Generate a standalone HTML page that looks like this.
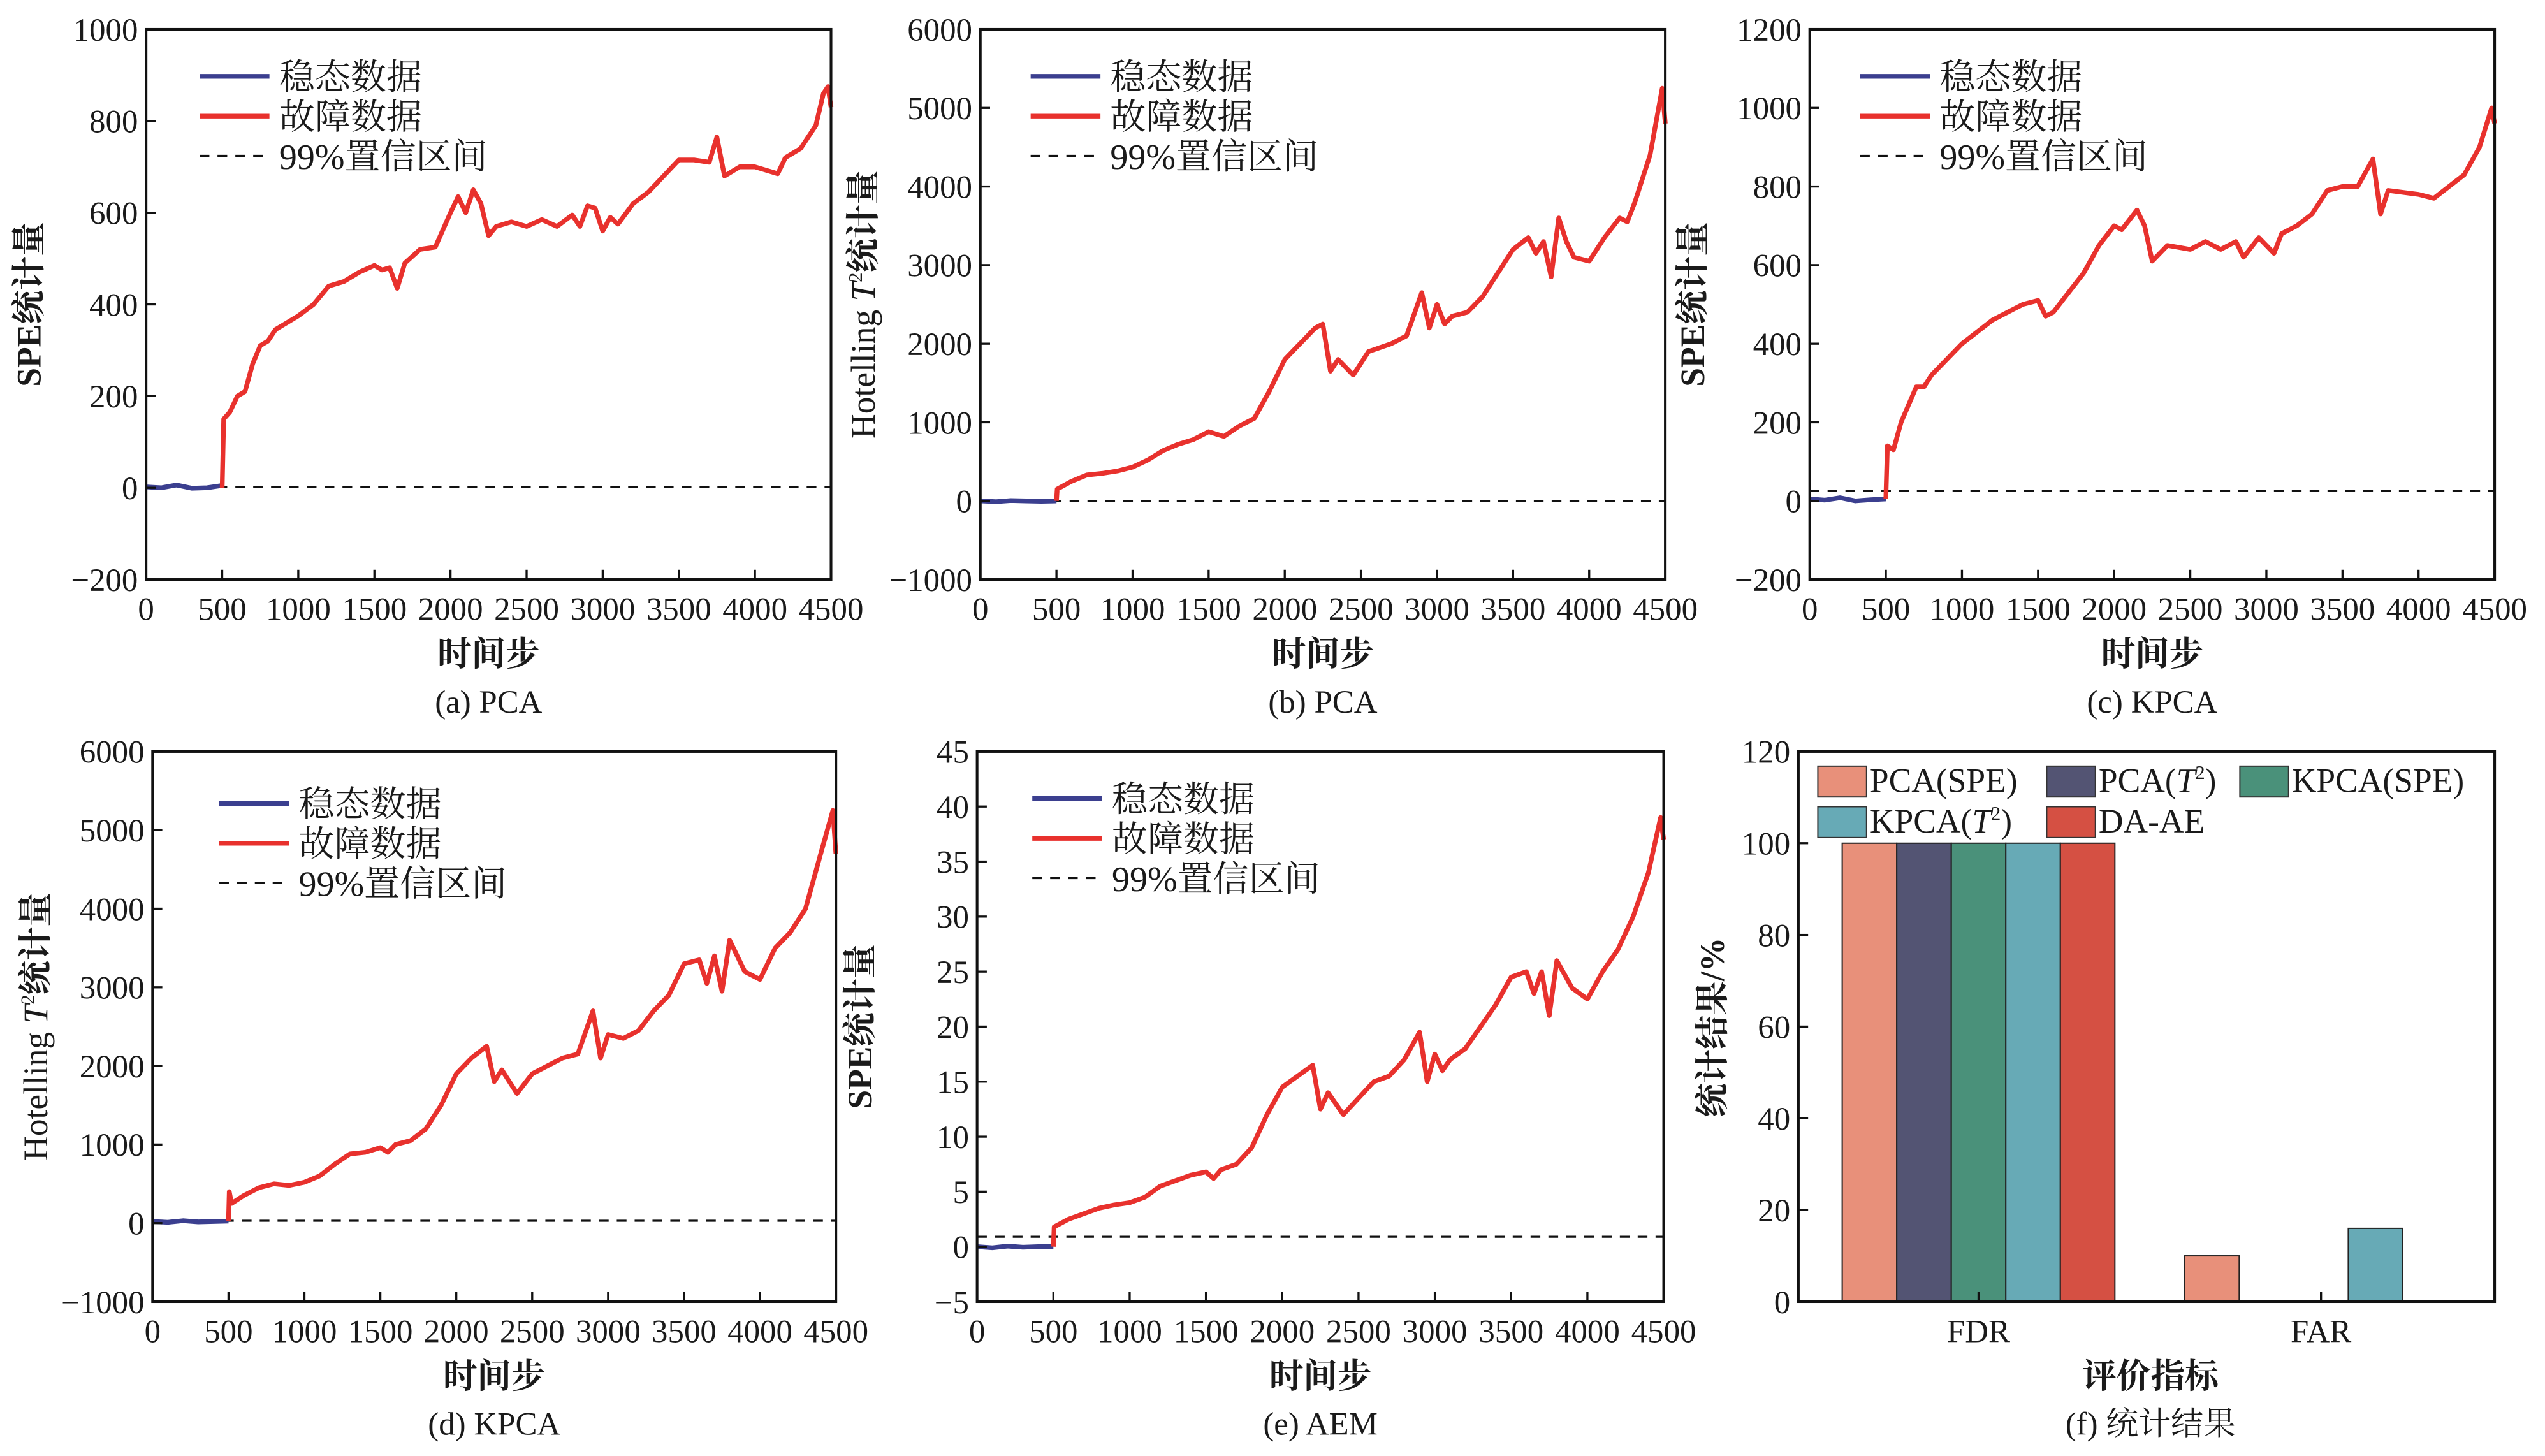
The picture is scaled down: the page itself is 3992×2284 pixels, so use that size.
<!DOCTYPE html>
<html><head><meta charset="utf-8"><style>
html,body{margin:0;padding:0;background:#fff}
svg{display:block}
text{font-family:"Liberation Serif","Noto Serif CJK SC","Noto Sans CJK SC",serif;fill:#1a1a1a}
</style></head><body>
<svg id="fig" width="3992" height="2284" viewBox="0 0 1568 897" xmlns="http://www.w3.org/2000/svg"></svg>
<script>
// ---- data ----
const steps = [0,100,200,300,400,500];
const steadyA = [2,0,6,-1,0,5];
const steadyB = [0,-10,5,0,-5,0];
const steadyC = [5,2,8,0,3,5];
const steadyD = [20,10,30,15,20,25];
const steadyE = [0,-0.1,0.05,-0.05,0,0];

const faultStepsA = [500,510,550,600,650,700,750,800,850,900,1000,1100,1200,1300,1400,1500,1550,1600,1650,1700,1800,1900,2000,2050,2100,2150,2200,2250,2300,2400,2500,2600,2700,2800,2850,2900,2950,3000,3050,3100,3200,3300,3400,3500,3600,3700,3750,3800,3850,3900,4000,4100,4150,4200,4300,4400,4450,4480,4500];
const faultA = [0,150,165,200,210,270,310,320,345,355,375,400,440,450,470,485,475,480,435,490,520,525,600,635,600,650,620,550,570,580,570,585,570,595,570,615,610,560,590,575,620,645,680,715,715,710,765,680,690,700,700,690,685,720,740,790,860,875,830];

const faultStepsB = [500,505,600,700,800,900,1000,1100,1200,1300,1400,1500,1600,1700,1800,1900,2000,2100,2200,2250,2300,2350,2450,2550,2700,2800,2900,2950,3000,3050,3100,3200,3300,3400,3500,3600,3650,3700,3750,3800,3850,3900,4000,4100,4200,4250,4300,4400,4480,4500];
const faultB = [0,150,250,330,350,380,430,520,640,720,780,880,820,950,1050,1400,1800,2000,2200,2250,1650,1800,1600,1900,2000,2100,2650,2200,2500,2250,2350,2400,2600,2900,3200,3350,3150,3300,2850,3600,3300,3100,3050,3350,3600,3550,3800,4400,5250,4800];

const faultStepsC = [500,510,550,600,700,750,800,900,1000,1100,1200,1300,1400,1500,1550,1600,1700,1800,1900,2000,2050,2150,2200,2250,2350,2500,2600,2700,2800,2850,2950,3000,3050,3100,3200,3300,3400,3500,3600,3700,3750,3800,4000,4100,4200,4300,4400,4480,4500];
const faultC = [5,140,130,200,290,290,320,360,400,430,460,480,500,510,470,480,530,580,650,700,690,740,700,610,650,640,660,640,660,620,670,650,630,680,700,730,790,800,800,870,730,790,780,770,800,830,900,1000,960];

const faultStepsD = [500,505,520,600,700,800,900,1000,1100,1200,1300,1400,1500,1550,1600,1700,1800,1900,2000,2100,2200,2250,2300,2400,2500,2600,2700,2800,2900,2950,3000,3100,3200,3300,3400,3500,3600,3650,3700,3750,3800,3900,4000,4100,4200,4300,4400,4480,4500];
const faultD = [25,400,250,350,450,500,480,520,600,750,880,900,960,900,1000,1050,1200,1500,1900,2100,2250,1800,1950,1650,1900,2000,2100,2150,2700,2100,2400,2350,2450,2700,2900,3300,3350,3050,3400,2950,3600,3200,3100,3500,3700,4000,4700,5250,4700];

const faultStepsE = [500,505,600,700,800,900,1000,1100,1200,1300,1400,1500,1550,1600,1700,1800,1900,2000,2100,2200,2250,2300,2400,2500,2600,2700,2800,2900,2950,3000,3050,3100,3200,3300,3400,3500,3600,3650,3700,3750,3800,3900,4000,4100,4200,4300,4400,4480,4500];
const faultE = [0,1.8,2.5,3.0,3.5,3.8,4.0,4.5,5.5,6.0,6.5,6.8,6.2,7.0,7.5,9.0,12,14.5,15.5,16.5,12.5,14,12,13.5,15,15.5,17,19.5,15,17.5,16,17,18,20,22,24.5,25,23,25,21,26,23.5,22.5,25,27,30,34,39,37];

const thresholds = [2,0,25,30,0.9];

const barCategories = ['FDR','FAR'];
const barSeries = ['PCA(SPE)','PCA(T²)','KPCA(SPE)','KPCA(T²)','DA-AE'];
const barFDR = [100,100,100,100,100];
const barFAR = [10,0,0,16,0];

const xTicks = [0,500,1000,1500,2000,2500,3000,3500,4000,4500];
const yTicksA = [-200,0,200,400,600,800,1000];
const yTicksB = [-1000,0,1000,2000,3000,4000,5000,6000];
const yTicksC = [-200,0,200,400,600,800,1000,1200];
const yTicksE = [-5,0,5,10,15,20,25,30,35,40,45];
const yTicksF = [0,20,40,60,80,100,120];

// ---- drawing ----
const NS='http://www.w3.org/2000/svg';
const svg=document.getElementById('fig');
function mk(tag,attrs,parent){const e=document.createElementNS(NS,tag);for(const k in attrs)e.setAttribute(k,attrs[k]);(parent||svg).appendChild(e);return e;}
function txt(s,x,y,size,anchor,parent,extra){const t=mk('text',Object.assign({x:x,y:y,'font-size':size,'text-anchor':anchor||'middle'},extra||{}),parent);t.textContent=s;return t;}

function linePanel(id,box,yMin,yMax,yTicks,steady,fSteps,fault,thr,yTitle,caption,legendPos,isT2){
  const g=mk('g',{});
  
  
  const [L,T,R,B]=box;
  const sx=v=>L+(v/4500)*(R-L);
  const sy=v=>B-(v-yMin)/(yMax-yMin)*(B-T);
  const th=mk('line',{x1:L,x2:R,y1:sy(thr),y2:sy(thr),stroke:'#111','stroke-width':1.3,'stroke-dasharray':'6,5'},g);
  
  
  const ps=steps.map((s,i)=>sx(s).toFixed(2)+','+sy(steady[i]).toFixed(2)).join(' ');
  const sl=mk('polyline',{points:ps,fill:'none',stroke:'#3b3f8f','stroke-width':2.9,'stroke-linejoin':'round'},g);
  
  
  const pf=fSteps.map((s,i)=>sx(s).toFixed(2)+','+sy(fault[i]).toFixed(2)).join(' ');
  const fl=mk('polyline',{points:pf,fill:'none',stroke:'#e8312d','stroke-width':2.9,'stroke-linejoin':'round'},g);
  
  
  mk('rect',{x:L,y:T,width:R-L,height:B-T,fill:'none',stroke:'#111','stroke-width':1.6},g);
  xTicks.forEach(v=>{mk('line',{x1:sx(v),x2:sx(v),y1:B,y2:B-6,stroke:'#111','stroke-width':1.3},g);
    const t=txt(String(v),sx(v),B+25,20,'middle',g);
    
    });
  yTicks.forEach(v=>{mk('line',{x1:L,x2:L+6,y1:sy(v),y2:sy(v),stroke:'#111','stroke-width':1.3},g);
    const t=txt((v<0?'\u2212'+(-v):String(v)),L-5,sy(v)+7,20,'end',g);
    
    });
  const xt=txt('时间步',(L+R)/2,B+53,21,'middle',g,{'font-weight':'bold'});
  
  
  const cap=txt(caption,(L+R)/2,B+82,20,'middle',g);
  
  
  const cx=L-65, cy=(T+B)/2;
  const yt=mk('text',{x:cx,y:cy,'font-size':21,'text-anchor':'middle','font-weight':'bold',transform:`rotate(-90 ${cx} ${cy})`},g);
  
  
  if(isT2){yt.setAttribute('font-weight','normal');yt.appendChild(document.createTextNode('Hotelling '));const i=document.createElementNS(NS,'tspan');i.setAttribute('font-style','italic');i.textContent='T';yt.appendChild(i);const s=document.createElementNS(NS,'tspan');s.setAttribute('font-size',12);s.setAttribute('dy',-8);s.textContent='2';yt.appendChild(s);const r=document.createElementNS(NS,'tspan');r.setAttribute('dy',8);r.setAttribute('font-weight','bold');r.textContent='统计量';yt.appendChild(r);}
  else yt.textContent=yTitle;
  const [lx,ly]=legendPos;
  const lg=mk('g',{},g);
  
  
  const items=[['稳态数据','#3b3f8f',null],['故障数据','#e8312d',null],['99%置信区间','#111','6,5']];
  items.forEach((it,i)=>{const y=ly+i*24.5;
    mk('line',{x1:lx,x2:lx+43,y1:y,y2:y,stroke:it[1],'stroke-width':it[2]?1.3:2.9,'stroke-dasharray':it[2]||'none'},lg);
    const t=txt(it[0],lx+49,y+8,22,'start',lg);
    
    });
}

linePanel('panel-a-pca-spe',[90,18,512,357],-200,1000,yTicksA,steadyA,faultStepsA,faultA,thresholds[0],'SPE统计量','(a) PCA',[123,47],false);
linePanel('panel-b-pca-t2',[604,18,1026,357],-1000,6000,yTicksB,steadyB,faultStepsB,faultB,thresholds[1],'','(b) PCA',[635,47],true);
linePanel('panel-c-kpca-spe',[1115,18,1537,357],-200,1200,yTicksC,steadyC,faultStepsC,faultC,thresholds[2],'SPE统计量','(c) KPCA',[1146,47],false);
linePanel('panel-d-kpca-t2',[94,463,515,802],-1000,6000,yTicksB,steadyD,faultStepsD,faultD,thresholds[3],'','(d) KPCA',[135,495],true);
linePanel('panel-e-aem-spe',[602,463,1025,802],-5,45,yTicksE,steadyE,faultStepsE,faultE,thresholds[4],'SPE统计量','(e) AEM',[636,492],false);

(function(){
  const g=mk('g',{});
  
  
  const L=1108,T=463,R=1537,B=802;
  const sy=v=>B-v/120*(B-T);
  const centers=[1219,1430];
  const bw=33.6;
  const colors=['#e8907a','#535473','#4a917a','#67aab6','#d55043'];
  [barFDR,barFAR].forEach((vals,ci)=>{
    vals.forEach((v,si)=>{
      if(v<=0)return;
      const x=centers[ci]-2.5*bw+si*bw;
      const r=mk('rect',{x:x,y:sy(v),width:bw,height:B-sy(v),fill:colors[si],stroke:'#222','stroke-width':0.8},g);
      
      
    });
  });
  mk('rect',{x:L,y:T,width:R-L,height:B-T,fill:'none',stroke:'#111','stroke-width':1.6},g);
  centers.forEach((c,i)=>{mk('line',{x1:c,x2:c,y1:B,y2:B-6,stroke:'#111','stroke-width':1.3},g);
    const t=txt(barCategories[i],c,B+25,20,'middle',g);
    
    });
  yTicksF.forEach(v=>{mk('line',{x1:L,x2:L+6,y1:sy(v),y2:sy(v),stroke:'#111','stroke-width':1.3},g);
    const t=txt(String(v),L-5,sy(v)+7,20,'end',g);
    
    });
  const xt=txt('评价指标',1325,B+53,21,'middle',g,{'font-weight':'bold'});
  
  
  const cap=txt('(f) 统计结果',1325,B+82,20,'middle',g);
  
  
  const cx=1062,cy=633;
  const yt=mk('text',{x:cx,y:cy,'font-size':21,'text-anchor':'middle','font-weight':'bold',transform:`rotate(-90 ${cx} ${cy})`},g);
  yt.textContent='统计结果/%';
  
  
  const pos=[[1120,481],[1261,481],[1380,481],[1120,506],[1261,506]];
  barSeries.forEach((s,i)=>{
    const [x,y]=pos[i];
    mk('rect',{x:x,y:y-9,width:30,height:19,fill:colors[i],stroke:'#333','stroke-width':0.8},g);
    const t=mk('text',{x:x+32,y:y+7,'font-size':21,'text-anchor':'start'},g);
    
    
    if(s.indexOf('T²')>=0){const pre=s.split('T²');t.appendChild(document.createTextNode(pre[0]));
      const it=document.createElementNS(NS,'tspan');it.setAttribute('font-style','italic');it.textContent='T';t.appendChild(it);
      const sp=document.createElementNS(NS,'tspan');sp.setAttribute('font-size',12);sp.setAttribute('dy',-8);sp.textContent='2';t.appendChild(sp);
      const r=document.createElementNS(NS,'tspan');r.setAttribute('dy',8);r.textContent=pre[1];t.appendChild(r);}
    else t.textContent=s;
  });
})();
</script>
</body></html>
